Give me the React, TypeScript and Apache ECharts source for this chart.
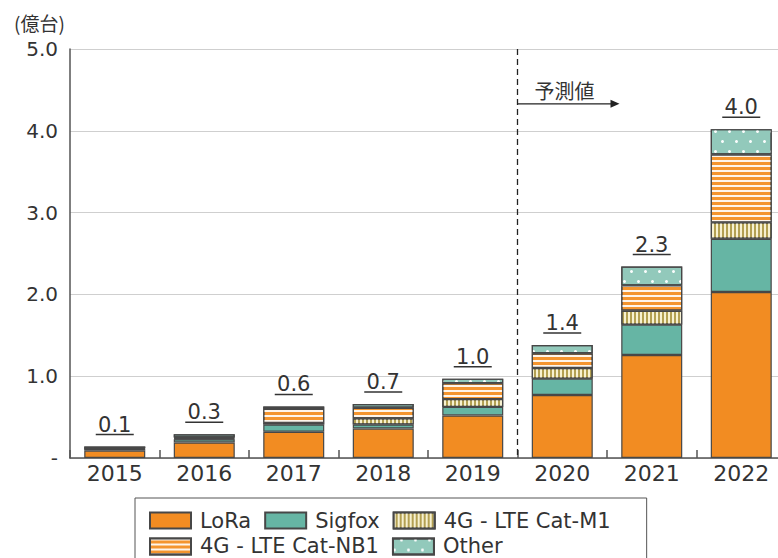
import React, { useEffect, useRef } from "react";
import * as echarts from "echarts";

const categories = ["2015", "2016", "2017", "2018", "2019", "2020", "2021", "2022"];
const lora = [0.09, 0.19, 0.32, 0.36, 0.52, 0.77, 1.26, 2.03];
const sigfox = [0.02, 0.04, 0.09, 0.05, 0.105, 0.2, 0.37, 0.65];
const catM1 = [0.005, 0.01, 0.02, 0.075, 0.095, 0.13, 0.17, 0.2];
const catNB1 = [0.005, 0.01, 0.17, 0.13, 0.195, 0.18, 0.31, 0.83];
const other = [0.02, 0.04, 0.03, 0.045, 0.055, 0.1, 0.23, 0.31];
const totalLabels = ["0.1", "0.3", "0.6", "0.7", "1.0", "1.4", "2.3", "4.0"];
const yTickLabels = ["-", "1.0", "2.0", "3.0", "4.0", "5.0"];
const seriesNames = ["LoRa", "Sigfox", "4G - LTE Cat-M1", "4G - LTE Cat-NB1", "Other"];
const forecastStartIndex = 5;
const forecastLabel = "予測値";
const unitLabel = "(億台)";

const FONT = "'DejaVu Sans', 'Noto Sans CJK JP', sans-serif";
const CJK = "'Noto Sans CJK JP', 'Noto Sans', sans-serif";
const BORDER = "#474747";

export default function App() {
  const ref = useRef<HTMLDivElement>(null);
  useEffect(() => {
    if (!ref.current) return;
    const chart = echarts.init(ref.current, null, { renderer: "svg" });
    const totals = categories.map(
      (_, i) => lora[i] + sigfox[i] + catM1[i] + catNB1[i] + other[i]
    );
    const barBase = {
      type: "bar",
      stack: "total",
      barWidth: 61,
      emphasis: { disabled: true },
    };
    const option: any = {
      animation: false,
      textStyle: { fontFamily: FONT },
      title: {
        text: unitLabel,
        left: 9,
        top: 8,
        textStyle: { fontSize: 19, fontWeight: "normal", color: "#333", fontFamily: CJK },
      },
      grid: { left: 70, top: 49, width: 716, height: 409, outerBoundsMode: "none", containLabel: false },
      legend: {
        data: seriesNames,
        icon: "rect",
        left: 135,
        top: 498,
        width: 475,
        padding: [12, 28, 6, 14],
        borderColor: "#555",
        borderWidth: 1,
        itemWidth: 41,
        itemHeight: 16,
        itemGap: 5,
        selectedMode: false,
        textStyle: { fontSize: 21, color: "#333", lineHeight: 16, fontFamily: FONT, padding: [0, 8, 0, 4] },
      },
      xAxis: {
        type: "category",
        data: categories,
        axisLine: { lineStyle: { color: "#555", width: 1.5 } },
        axisTick: { show: true, inside: true, length: 8, lineStyle: { color: "#555", width: 1.5 } },
        axisLabel: { fontSize: 22, color: "#333", margin: 4, fontFamily: FONT },
      },
      yAxis: {
        type: "value",
        min: 0,
        max: 5,
        interval: 1,
        axisLine: { show: true, lineStyle: { color: "#555", width: 1.5 } },
        axisTick: { show: false },
        splitLine: { lineStyle: { color: "#cfcfcf", width: 1 } },
        axisLabel: {
          fontSize: 20,
          color: "#333",
          margin: 12,
          fontFamily: FONT,
          formatter: (v: number) => yTickLabels[Math.round(v)],
        },
      },
      series: [
        {
          ...barBase,
          name: seriesNames[0],
          data: lora,
          itemStyle: { color: "#f28c22", borderColor: BORDER, borderWidth: 1.2 },
        },
        {
          ...barBase,
          name: seriesNames[1],
          data: sigfox,
          itemStyle: { color: "#66b5a4", borderColor: BORDER, borderWidth: 1.2 },
        },
        {
          ...barBase,
          name: seriesNames[2],
          data: catM1,
          itemStyle: {
            color: "#b3a052",
            borderColor: BORDER,
            borderWidth: 1.2,
            decal: {
              symbol: "rect",
              symbolSize: 1,
              color: "rgba(250,245,215,0.95)",
              dashArrayX: [2, 2],
              dashArrayY: [1, 0],
            },
          },
        },
        {
          ...barBase,
          name: seriesNames[3],
          data: catNB1,
          itemStyle: {
            color: "#f4952f",
            borderColor: BORDER,
            borderWidth: 1.2,
            decal: {
              symbol: "rect",
              symbolSize: 1,
              color: "rgba(255,255,255,0.9)",
              dashArrayX: [1, 0],
              dashArrayY: [2, 3],
            },
          },
        },
        {
          ...barBase,
          name: seriesNames[4],
          data: other,
          itemStyle: {
            color: "#92c9bb",
            borderColor: BORDER,
            borderWidth: 1.2,
            decal: {
              symbol: "circle",
              symbolSize: 1,
              color: "rgba(255,255,255,0.95)",
              dashArrayX: [[3, 11], [0, 7, 3, 4]],
              dashArrayY: [3, 7],
            },
          },
        },
        {
          type: "custom",
          name: "totals",
          silent: true,
          z: 10,
          data: totals.map((t, i) => [i, t]),
          renderItem: (params: any, api: any) => {
            const i = api.value(0);
            const p = api.coord([i, api.value(1)]);
            return {
              type: "group",
              children: [
                {
                  type: "text",
                  style: {
                    text: totalLabels[params.dataIndex],
                    x: p[0],
                    y: p[1] - 22,
                    align: "center",
                    verticalAlign: "middle",
                    fontSize: 21,
                    fontFamily: FONT,
                    fill: "#333",
                  },
                },
                {
                  type: "line",
                  shape: { x1: p[0] - 19, y1: p[1] - 12, x2: p[0] + 19, y2: p[1] - 12 },
                  style: { stroke: "#333", lineWidth: 1.5 },
                },
              ],
            };
          },
        },
        {
          type: "custom",
          name: "forecast",
          silent: true,
          z: 10,
          data: [[forecastStartIndex, 5]],
          renderItem: (params: any, api: any) => {
            const idx = api.value(0);
            const a = api.coord([idx - 1, 0]);
            const b = api.coord([idx, 0]);
            const top = api.coord([idx, api.value(1)]);
            const band = api.size([1, 0])[0];
            const x = (a[0] + b[0]) / 2;
            const arrowY = api.coord([idx, 4.33])[1];
            const textY = api.coord([idx, 4.49])[1];
            const x2 = x + band * 1.14;
            return {
              type: "group",
              children: [
                {
                  type: "line",
                  shape: { x1: x, y1: top[1], x2: x, y2: a[1] },
                  style: { stroke: "#222", lineWidth: 1.3, lineDash: [6, 4] },
                },
                {
                  type: "line",
                  shape: { x1: x, y1: arrowY, x2: x2 - 6, y2: arrowY },
                  style: { stroke: "#222", lineWidth: 1.3 },
                },
                {
                  type: "polygon",
                  shape: {
                    points: [
                      [x2, arrowY],
                      [x2 - 9, arrowY - 4],
                      [x2 - 9, arrowY + 4],
                    ],
                  },
                  style: { fill: "#222" },
                },
                {
                  type: "text",
                  style: {
                    text: forecastLabel,
                    x: x + 17,
                    y: textY,
                    align: "left",
                    verticalAlign: "middle",
                    fontSize: 20,
                    fontFamily: CJK,
                    fill: "#333",
                  },
                },
              ],
            };
          },
        },
      ],
    };
    chart.setOption(option);
    return () => chart.dispose();
  }, []);
  return (
    <div
      ref={ref}
      style={{ position: "fixed", left: 0, top: 0, width: 778, height: 558, background: "#fff" }}
    />
  );
}
